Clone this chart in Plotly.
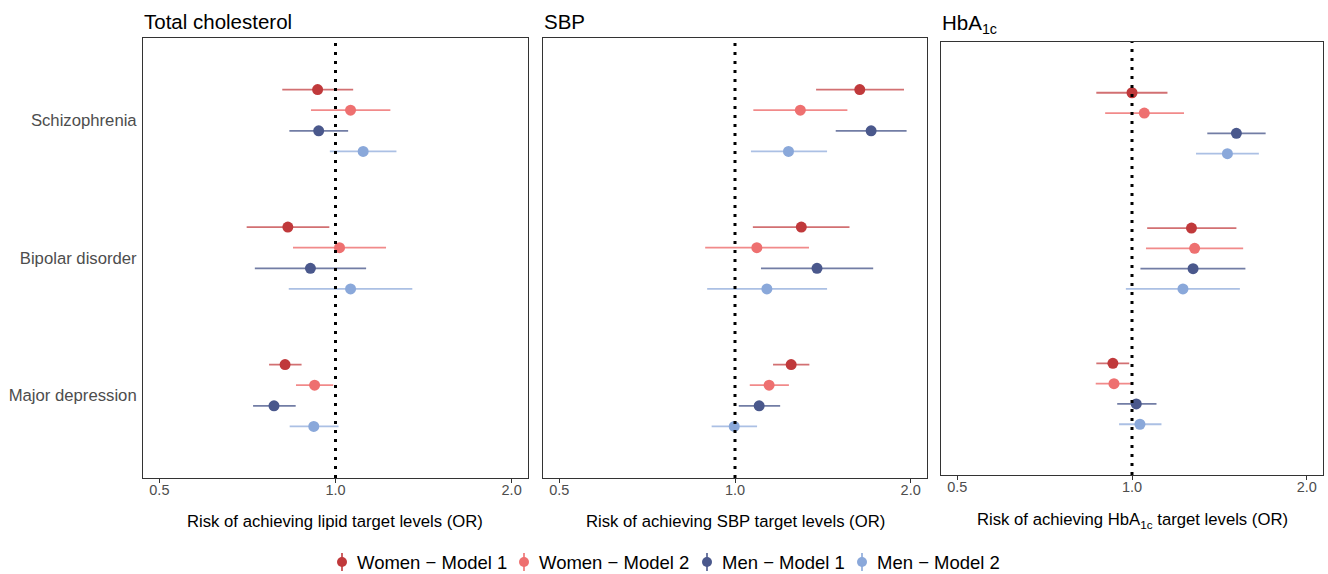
import plotly.graph_objects as go

# ---------------- data ----------------
categories = ["Schizophrenia", "Bipolar disorder", "Major depression"]
series_names = ["Women \u2212 Model 1", "Women \u2212 Model 2", "Men \u2212 Model 1", "Men \u2212 Model 2"]
x_ticks = [0.5, 1.0, 2.0]
x_tick_labels = ["0.5", "1.0", "2.0"]

# rows: series (W1, W2, M1, M2); columns: categories
chol_or = [[0.932, 0.829, 0.820], [1.061, 1.016, 0.921], [0.936, 0.906, 0.785], [1.115, 1.061, 0.918]]
chol_lo = [[0.811, 0.705, 0.770], [0.908, 0.846, 0.856], [0.834, 0.728, 0.723], [0.978, 0.832, 0.835]]
chol_hi = [[1.072, 0.976, 0.875], [1.241, 1.220, 0.991], [1.051, 1.128, 0.855], [1.271, 1.353, 1.012]]

sbp_or = [[1.636, 1.299, 1.248], [1.294, 1.090, 1.144], [1.711, 1.382, 1.100], [1.235, 1.134, 0.997]]
sbp_lo = [[1.377, 1.073, 1.162], [1.075, 0.889, 1.060], [1.488, 1.108, 1.015], [1.065, 0.896, 0.912]]
sbp_hi = [[1.948, 1.571, 1.341], [1.558, 1.339, 1.237], [1.968, 1.725, 1.195], [1.438, 1.438, 1.091]]

hba_or = [[1.000, 1.266, 0.927], [1.050, 1.282, 0.931], [1.513, 1.274, 1.017], [1.460, 1.224, 1.032]]
hba_lo = [[0.868, 1.062, 0.868], [0.899, 1.057, 0.866], [1.348, 1.034, 0.943], [1.289, 0.976, 0.950]]
hba_hi = [[1.151, 1.513, 0.989], [1.229, 1.554, 0.998], [1.699, 1.568, 1.102], [1.654, 1.534, 1.124]]

# ---------------- style ----------------
W, H = 1328, 574
FONT = "Liberation Sans, Arial, Helvetica, sans-serif"
colors = ["#C0393B", "#EE7070", "#4A588C", "#8AA8DA"]
line_colors = ["rgba(192,57,59,0.72)", "rgba(238,112,112,0.82)", "rgba(74,88,140,0.78)", "rgba(138,168,218,0.72)"]
offsets = [-0.225, -0.075, 0.075, 0.225]
legend_marker_px = [342, 524, 707, 862]
legend_y_px = 562


def fx(p):
    return p / W


def fy(p):
    return 1 - p / H


panels = [
    dict(title="Total cholesterol", xtitle="Risk of achieving lipid target levels (OR)",
         est=chol_or, lo=chol_lo, hi=chol_hi, xdom=(143, 528), ydom=(38, 478), ty=8, xty=521),
    dict(title="SBP", xtitle="Risk of achieving SBP target levels (OR)",
         est=sbp_or, lo=sbp_lo, hi=sbp_hi, xdom=(543, 927), ydom=(38, 478), ty=8, xty=521),
    dict(title="HbA<sub>1c</sub>", xtitle="Risk of achieving HbA<sub>1c</sub> target levels (OR)",
         est=hba_or, lo=hba_lo, hi=hba_hi, xdom=(941, 1323), ydom=(42, 475), ty=9, xty=520),
]

fig = go.Figure()
layout = dict(
    width=W, height=H, margin=dict(l=0, r=0, t=0, b=0),
    paper_bgcolor="white", plot_bgcolor="white",
    font=dict(family=FONT, color="#000000"),
    showlegend=False,
)
annotations = []
shapes = []

for i, p in enumerate(panels):
    n = i + 1
    xa = "x" if n == 1 else f"x{n}"
    ya = "y" if n == 1 else f"y{n}"
    for s in range(4):
        yv = [c + offsets[s] for c in range(len(categories))]
        est = p["est"][s]
        fig.add_trace(go.Scatter(
            x=est, y=yv, mode="markers", xaxis=xa, yaxis=ya, showlegend=False,
            name=series_names[s],
            marker=dict(size=11, color=colors[s], line=dict(width=0)),
            error_x=dict(type="data", symmetric=False,
                         array=[h - e for h, e in zip(p["hi"][s], est)],
                         arrayminus=[e - l for e, l in zip(est, p["lo"][s])],
                         width=0, thickness=1.8, color=line_colors[s]),
        ))
    layout[f"xaxis{'' if n == 1 else n}"] = dict(
        type="log", range=[-0.329, 0.329], domain=[fx(p["xdom"][0]), fx(p["xdom"][1])],
        anchor=ya, tickvals=x_ticks, ticktext=x_tick_labels,
        showline=True, mirror=True, linecolor="#333333", linewidth=1,
        ticks="outside", ticklen=4, tickcolor="#333333", tickwidth=1,
        ticklabelstandoff=-5,
        tickfont=dict(size=14.5, color="#4D4D4D", family=FONT),
        showgrid=False, zeroline=False,
    )
    layout[f"yaxis{'' if n == 1 else n}"] = dict(
        range=[2.6, -0.6], domain=[fy(p["ydom"][1]), fy(p["ydom"][0])], anchor=xa,
        tickvals=[0, 1, 2], ticktext=categories, showticklabels=(n == 1),
        ticks="", ticklabelstandoff=2,
        tickfont=dict(size=16.7, color="#4D4D4D", family=FONT),
        showline=True, mirror=True, linecolor="#333333", linewidth=1,
        showgrid=False, zeroline=False,
    )
    shapes.append(dict(type="line", xref=xa, yref=f"{ya} domain", x0=1, x1=1, y0=0, y1=1,
                       line=dict(color="black", width=3, dash="3px,6px")))
    annotations.append(dict(text=p["title"], x=fx(p["xdom"][0] - 1), y=fy(p["ty"]), xref="paper", yref="paper",
                            xanchor="left", yanchor="top", showarrow=False,
                            font=dict(size=20.5, color="#000000", family=FONT)))
    annotations.append(dict(text=p["xtitle"], x=fx((p["xdom"][0] + p["xdom"][1]) / 2), y=fy(p["xty"]),
                            xref="paper", yref="paper", xanchor="center", yanchor="middle", showarrow=False,
                            font=dict(size=16.7, color="#000000", family=FONT)))

# manual legend (pointrange glyph + label)
for s in range(4):
    mx = legend_marker_px[s]
    shapes.append(dict(type="line", xref="paper", yref="paper", x0=fx(mx), x1=fx(mx),
                       y0=fy(legend_y_px + 9), y1=fy(legend_y_px - 9),
                       line=dict(color=colors[s], width=1.6)))
    shapes.append(dict(type="circle", xref="paper", yref="paper",
                       x0=fx(mx - 5), x1=fx(mx + 5), y0=fy(legend_y_px + 5), y1=fy(legend_y_px - 5),
                       fillcolor=colors[s], line=dict(width=0)))
    annotations.append(dict(text=series_names[s], x=fx(mx + 13), y=fy(legend_y_px), xref="paper", yref="paper",
                            xanchor="left", yanchor="middle", showarrow=False,
                            font=dict(size=18.5, color="#000000", family=FONT)))

layout["annotations"] = annotations
layout["shapes"] = shapes
fig.update_layout(**layout)
fig.write_html("out.html", config={"displayModeBar": False},
               post_script="document.body.style.margin='0';document.body.style.overflow='hidden';")
